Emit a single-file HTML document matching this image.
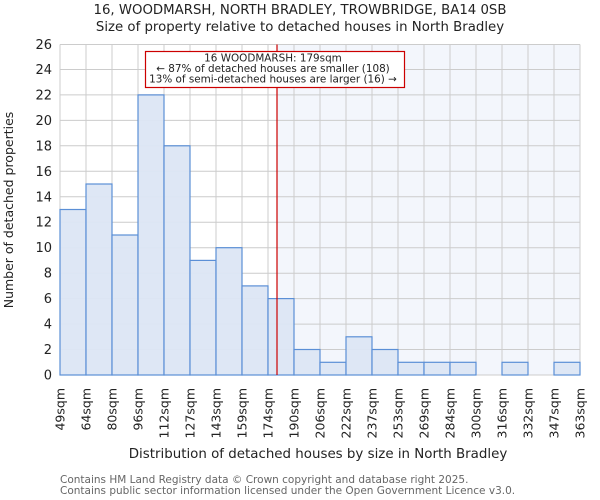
<!DOCTYPE html>
<html><head><meta charset="utf-8"><style>
body{margin:0;background:#fff}
svg{display:block;font-family:"DejaVu Sans","Liberation Sans",sans-serif}
</style></head><body>
<svg width="600" height="500" viewBox="0 0 600 500">
<rect width="600" height="500" fill="#fff"/>
<text x="300" y="14" text-anchor="middle" font-size="13.3" fill="#222">16, WOODMARSH, NORTH BRADLEY, TROWBRIDGE, BA14 0SB</text>
<text x="300" y="31" text-anchor="middle" font-size="13.3" fill="#222">Size of property relative to detached houses in North Bradley</text>
<rect x="277" y="44.5" width="303" height="330.5" fill="#f3f6fc"/>
<g stroke="#cccccc" stroke-width="1">
<line x1="60" y1="375" x2="580" y2="375"/><line x1="60" y1="349.5" x2="580" y2="349.5"/><line x1="60" y1="324.1" x2="580" y2="324.1"/><line x1="60" y1="298.6" x2="580" y2="298.6"/><line x1="60" y1="273.2" x2="580" y2="273.2"/><line x1="60" y1="247.7" x2="580" y2="247.7"/><line x1="60" y1="222.2" x2="580" y2="222.2"/><line x1="60" y1="196.8" x2="580" y2="196.8"/><line x1="60" y1="171.3" x2="580" y2="171.3"/><line x1="60" y1="145.8" x2="580" y2="145.8"/><line x1="60" y1="120.4" x2="580" y2="120.4"/><line x1="60" y1="94.9" x2="580" y2="94.9"/><line x1="60" y1="69.5" x2="580" y2="69.5"/><line x1="60" y1="44.5" x2="580" y2="44.5"/>
<line x1="60" y1="44.5" x2="60" y2="375"/><line x1="86" y1="44.5" x2="86" y2="375"/><line x1="112" y1="44.5" x2="112" y2="375"/><line x1="138" y1="44.5" x2="138" y2="375"/><line x1="164" y1="44.5" x2="164" y2="375"/><line x1="190" y1="44.5" x2="190" y2="375"/><line x1="216" y1="44.5" x2="216" y2="375"/><line x1="242" y1="44.5" x2="242" y2="375"/><line x1="268" y1="44.5" x2="268" y2="375"/><line x1="294" y1="44.5" x2="294" y2="375"/><line x1="320" y1="44.5" x2="320" y2="375"/><line x1="346" y1="44.5" x2="346" y2="375"/><line x1="372" y1="44.5" x2="372" y2="375"/><line x1="398" y1="44.5" x2="398" y2="375"/><line x1="424" y1="44.5" x2="424" y2="375"/><line x1="450" y1="44.5" x2="450" y2="375"/><line x1="476" y1="44.5" x2="476" y2="375"/><line x1="502" y1="44.5" x2="502" y2="375"/><line x1="528" y1="44.5" x2="528" y2="375"/><line x1="554" y1="44.5" x2="554" y2="375"/><line x1="580" y1="44.5" x2="580" y2="375"/>
</g>
<g fill="#dce6f4" fill-opacity="0.95" stroke="#5b8fd6" stroke-width="1.2">
<rect x="60" y="209.5" width="26" height="165.5"/>
<rect x="86" y="184" width="26" height="191"/>
<rect x="112" y="235" width="26" height="140"/>
<rect x="138" y="94.9" width="26" height="280.1"/>
<rect x="164" y="145.8" width="26" height="229.2"/>
<rect x="190" y="260.4" width="26" height="114.6"/>
<rect x="216" y="247.7" width="26" height="127.3"/>
<rect x="242" y="285.9" width="26" height="89.1"/>
<rect x="268" y="298.6" width="26" height="76.4"/>
<rect x="294" y="349.5" width="26" height="25.5"/>
<rect x="320" y="362.3" width="26" height="12.7"/>
<rect x="346" y="336.8" width="26" height="38.2"/>
<rect x="372" y="349.5" width="26" height="25.5"/>
<rect x="398" y="362.3" width="26" height="12.7"/>
<rect x="424" y="362.3" width="26" height="12.7"/>
<rect x="450" y="362.3" width="26" height="12.7"/>
<rect x="502" y="362.3" width="26" height="12.7"/>
<rect x="554" y="362.3" width="26" height="12.7"/>
</g>
<line x1="277" y1="44.5" x2="277" y2="375" stroke="#cc0000" stroke-width="1.2"/>
<rect x="145.5" y="51.5" width="259" height="36" fill="#fff" stroke="#cc0000" stroke-width="1.2"/>
<g font-size="10.4" fill="#222" text-anchor="middle">
<text x="273" y="61.5">16 WOODMARSH: 179sqm</text>
<text x="273" y="72">← 87% of detached houses are smaller (108)</text>
<text x="273" y="82.5">13% of semi-detached houses are larger (16) →</text>
</g>
<g font-size="13" fill="#222" text-anchor="end">
<text x="52" y="379.5">0</text><text x="52" y="354">2</text><text x="52" y="328.6">4</text><text x="52" y="303.1">6</text><text x="52" y="277.7">8</text><text x="52" y="252.2">10</text><text x="52" y="226.7">12</text><text x="52" y="201.3">14</text><text x="52" y="175.8">16</text><text x="52" y="150.3">18</text><text x="52" y="124.9">20</text><text x="52" y="99.4">22</text><text x="52" y="74">24</text><text x="52" y="49">26</text>
</g>
<g font-size="12.5" fill="#222" text-anchor="end">
<text transform="translate(64.5,388) rotate(-90)">49sqm</text>
<text transform="translate(90.5,388) rotate(-90)">64sqm</text>
<text transform="translate(116.5,388) rotate(-90)">80sqm</text>
<text transform="translate(142.5,388) rotate(-90)">96sqm</text>
<text transform="translate(168.5,388) rotate(-90)">112sqm</text>
<text transform="translate(194.5,388) rotate(-90)">127sqm</text>
<text transform="translate(220.5,388) rotate(-90)">143sqm</text>
<text transform="translate(246.5,388) rotate(-90)">159sqm</text>
<text transform="translate(272.5,388) rotate(-90)">174sqm</text>
<text transform="translate(298.5,388) rotate(-90)">190sqm</text>
<text transform="translate(324.5,388) rotate(-90)">206sqm</text>
<text transform="translate(350.5,388) rotate(-90)">222sqm</text>
<text transform="translate(376.5,388) rotate(-90)">237sqm</text>
<text transform="translate(402.5,388) rotate(-90)">253sqm</text>
<text transform="translate(428.5,388) rotate(-90)">269sqm</text>
<text transform="translate(454.5,388) rotate(-90)">284sqm</text>
<text transform="translate(480.5,388) rotate(-90)">300sqm</text>
<text transform="translate(506.5,388) rotate(-90)">316sqm</text>
<text transform="translate(532.5,388) rotate(-90)">332sqm</text>
<text transform="translate(558.5,388) rotate(-90)">347sqm</text>
<text transform="translate(584.5,388) rotate(-90)">363sqm</text>
</g>
<text x="318" y="458" text-anchor="middle" font-size="13.4" fill="#222">Distribution of detached houses by size in North Bradley</text>
<text transform="translate(13,210) rotate(-90)" text-anchor="middle" font-size="12.5" fill="#222">Number of detached properties</text>
<g font-size="10.5" fill="#666">
<text x="60" y="483">Contains HM Land Registry data © Crown copyright and database right 2025.</text>
<text x="60" y="494">Contains public sector information licensed under the Open Government Licence v3.0.</text>
</g>
</svg>
</body></html>
